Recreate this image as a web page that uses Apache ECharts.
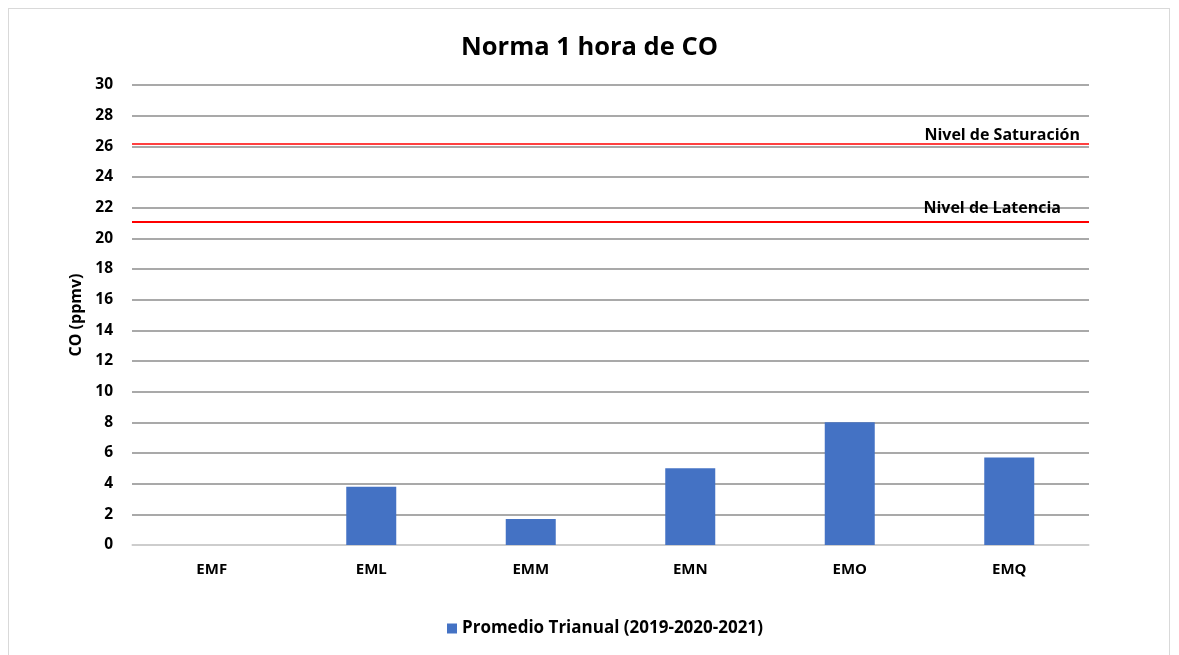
<!DOCTYPE html>
<html>
<head>
<meta charset="utf-8">
<script src="https://cdn.jsdelivr.net/npm/echarts@6/dist/echarts.min.js"></script>
<style>
  html, body { margin: 0; padding: 0; background: #fff; }
  #frame { position: absolute; left: 8px; top: 8px; width: 1162px; height: 660px; border: 1px solid #d9d9d9; box-sizing: border-box; }
  #chart { position: absolute; left: 0; top: 0; width: 1179px; height: 655px; }
</style>
</head>
<body>
<div id="frame"></div>
<div id="chart"></div>
<script>
// datos
const estaciones = ['EMF', 'EML', 'EMM', 'EMN', 'EMO', 'EMQ'];
const promedio = [0, 3.8, 1.7, 5.0, 8.0, 5.7];
const nivelSaturacion = 26.15;
const nivelLatencia = 21.1;
const serieNombre = 'Promedio Trianual (2019-2020-2021)';

const fuente = '"Open Sans", sans-serif';
const chart = echarts.init(document.getElementById('chart'));

const option = {
  animation: false,
  textStyle: { fontFamily: fuente },
  title: {
    text: 'Norma 1 hora de CO',
    left: 'center',
    top: 30,
    textStyle: { fontSize: 25.5, fontWeight: 'bold', color: '#000', fontFamily: fuente }
  },
  legend: {
    bottom: 13,
    left: 442,
    itemWidth: 10,
    itemHeight: 10,
    itemGap: 5,
    icon: 'rect',
    textStyle: { fontSize: 17, fontWeight: 'bold', color: '#000', fontFamily: fuente },
    data: [serieNombre]
  },
  grid: { left: 132, right: 90, top: 85, bottom: 110, containLabel: false },
  xAxis: {
    type: 'category',
    data: estaciones,
    axisTick: { show: false },
    axisLine: { lineStyle: { color: '#d9d9d9', width: 1.5 } },
    axisLabel: { fontSize: 15, fontWeight: 'bold', color: '#000', margin: 17 }
  },
  yAxis: {
    type: 'value',
    min: 0,
    max: 30,
    interval: 2,
    name: 'CO (ppmv)',
    nameLocation: 'middle',
    nameGap: 48,
    nameRotate: 90,
    nameTextStyle: { fontSize: 16, fontWeight: 'bold', color: '#000', fontFamily: fuente },
    axisLine: { show: false },
    axisTick: { show: false },
    axisLabel: { fontSize: 15.5, fontWeight: 'bold', color: '#000', margin: 19 },
    splitLine: { lineStyle: { color: '#8c8c8c', width: 1.5 } }
  },
  series: [{
    name: serieNombre,
    type: 'bar',
    data: promedio,
    barWidth: 50,
    z: 3,
    itemStyle: { color: '#4472c4' },
    markLine: {
      symbol: 'none',
      silent: true,
      z: 10,
      data: [
        {
          yAxis: nivelSaturacion,
          lineStyle: { color: '#ff0000', width: 1.5, type: 'solid' },
          label: { formatter: 'Nivel de Saturación', position: 'insideEndTop', distance: [9, 1] }
        },
        {
          yAxis: nivelLatencia,
          lineStyle: { color: '#ff0000', width: 2, type: 'solid' },
          label: { formatter: 'Nivel de Latencia', position: 'insideEndTop', distance: [28, 5] }
        }
      ],
      label: { fontSize: 16, fontWeight: 'bold', color: '#000', fontFamily: fuente }
    }
  }]
};

chart.setOption(option);
</script>
</body>
</html>
